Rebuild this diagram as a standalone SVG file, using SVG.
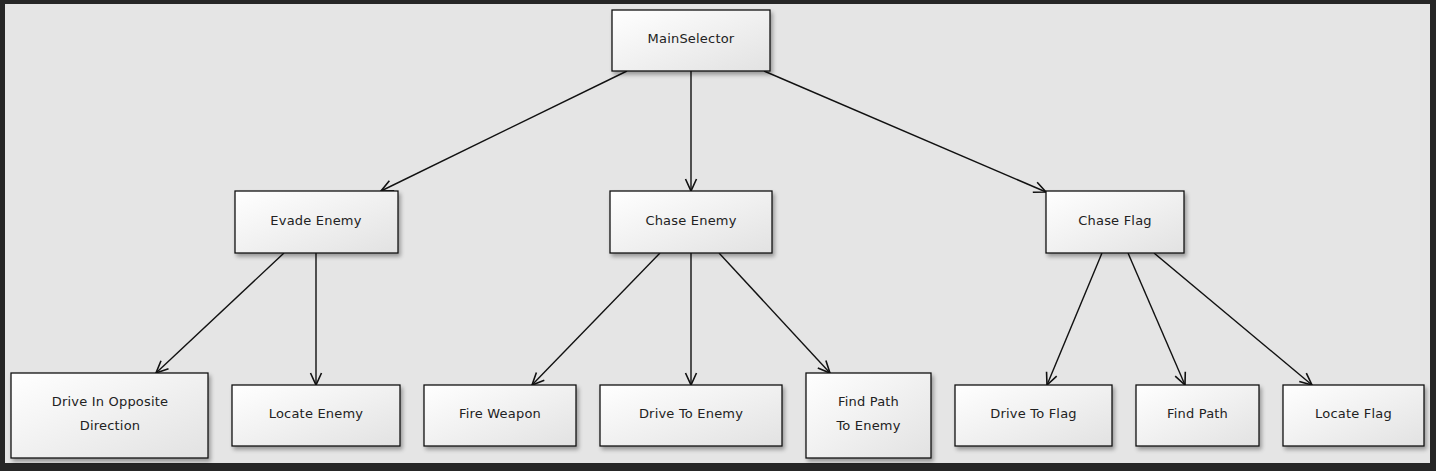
<svg xmlns="http://www.w3.org/2000/svg" width="1436" height="471" viewBox="0 0 1436 471">
<defs>
<linearGradient id="g" x1="0" y1="0" x2="1" y2="1">
<stop offset="0" stop-color="#ffffff"/>
<stop offset="1" stop-color="#e2e2e2"/>
</linearGradient>
<filter id="sh" x="-10%" y="-10%" width="130%" height="140%">
<feGaussianBlur in="SourceAlpha" stdDeviation="2"/>
<feOffset dx="2" dy="3" result="b"/>
<feComponentTransfer><feFuncA type="linear" slope="0.35"/></feComponentTransfer>
<feMerge><feMergeNode/><feMergeNode in="SourceGraphic"/></feMerge>
</filter>
<marker id="ah" markerWidth="16" markerHeight="16" refX="13" refY="6" orient="auto" markerUnits="userSpaceOnUse" viewBox="0 0 16 12">
<path d="M1,0.5 L13,6 L1,11.5" fill="none" stroke="#111" stroke-width="1.6"/>
</marker>
</defs>
<style>
.box{fill:url(#g);stroke:#111;stroke-width:1.3;filter:url(#sh)}
.t{font-family:"DejaVu Sans",sans-serif;font-size:13px;fill:#222;text-anchor:middle;letter-spacing:0.2px}
.c{stroke:#111;stroke-width:1.4;fill:none;marker-end:url(#ah)}
</style>
<rect x="0" y="0" width="1436" height="471" fill="#262626"/>
<rect x="5" y="4" width="1425" height="459" fill="#e5e5e5"/>
<g id="connectors">
<line class="c" x1="627" y1="71" x2="381" y2="191"/>
<line class="c" x1="691" y1="71" x2="691" y2="191"/>
<line class="c" x1="764" y1="71" x2="1046" y2="192"/>
<line class="c" x1="284" y1="253" x2="156" y2="373"/>
<line class="c" x1="316" y1="253" x2="316" y2="385"/>
<line class="c" x1="660" y1="253" x2="532" y2="385"/>
<line class="c" x1="691" y1="253" x2="691" y2="385"/>
<line class="c" x1="719" y1="253" x2="830" y2="373"/>
<line class="c" x1="1102" y1="253" x2="1047" y2="385"/>
<line class="c" x1="1128" y1="253" x2="1185" y2="385"/>
<line class="c" x1="1154" y1="253" x2="1312" y2="385"/>
</g>
<g id="mainSelector"><rect class="box" x="612" y="10" width="158" height="61"/><text class="t" x="691" y="43">MainSelector</text></g>
<g id="evadeEnemy"><rect class="box" x="235" y="191" width="163" height="62"/><text class="t" x="316" y="225">Evade Enemy</text></g>
<g id="chaseEnemy"><rect class="box" x="610" y="191" width="162" height="62"/><text class="t" x="691" y="225">Chase Enemy</text></g>
<g id="chaseFlag"><rect class="box" x="1046" y="191" width="138" height="62"/><text class="t" x="1115" y="225">Chase Flag</text></g>
<g id="driveOpposite"><rect class="box" x="11" y="373" width="197" height="85"/><text class="t" x="110" y="406">Drive In Opposite</text><text class="t" x="110" y="430">Direction</text></g>
<g id="locateEnemy"><rect class="box" x="232" y="385" width="168" height="61"/><text class="t" x="316" y="418">Locate Enemy</text></g>
<g id="fireWeapon"><rect class="box" x="424" y="385" width="152" height="61"/><text class="t" x="500" y="418">Fire Weapon</text></g>
<g id="driveToEnemy"><rect class="box" x="600" y="385" width="182" height="61"/><text class="t" x="691" y="418">Drive To Enemy</text></g>
<g id="findPathToEnemy"><rect class="box" x="806" y="373" width="125" height="85"/><text class="t" x="868.5" y="406">Find Path</text><text class="t" x="868.5" y="430">To Enemy</text></g>
<g id="driveToFlag"><rect class="box" x="955" y="385" width="157" height="61"/><text class="t" x="1033.5" y="418">Drive To Flag</text></g>
<g id="findPath"><rect class="box" x="1136" y="385" width="123" height="61"/><text class="t" x="1197.5" y="418">Find Path</text></g>
<g id="locateFlag"><rect class="box" x="1283" y="385" width="141" height="61"/><text class="t" x="1353.5" y="418">Locate Flag</text></g>
</svg>
